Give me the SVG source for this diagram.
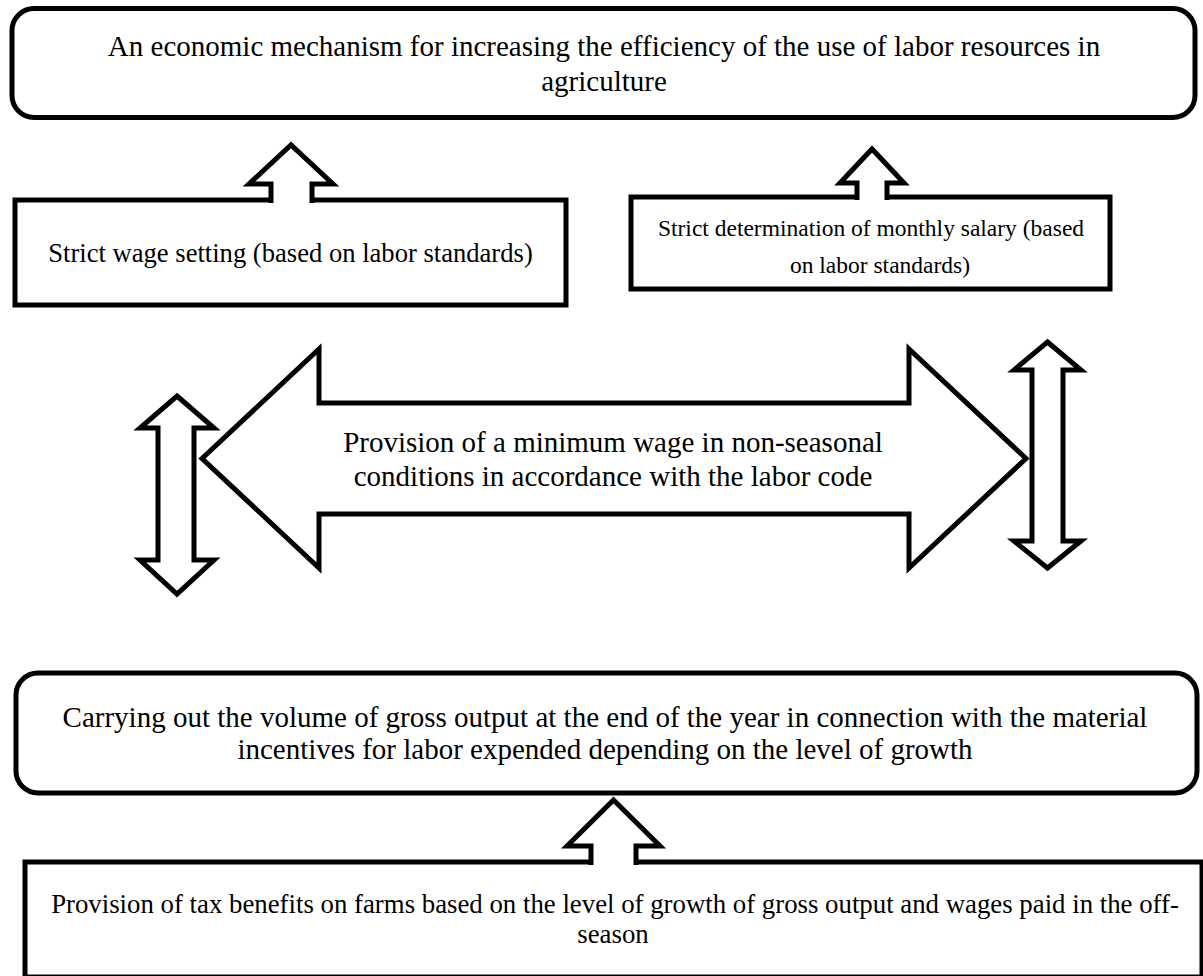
<svg xmlns="http://www.w3.org/2000/svg" width="1203" height="976" viewBox="0 0 1203 976">
  <style>
    .box { fill: #ffffff; stroke: #000000; stroke-width: 5; }
    .arrow { fill: #ffffff; stroke: #000000; stroke-width: 5; stroke-linejoin: miter; stroke-miterlimit: 6; }
    .t { font-family: "Liberation Serif", "Times New Roman", serif; fill: #000000; text-anchor: middle; }
    .big { font-size: 29px; }
    .mid { font-size: 26.6px; }
    .small { font-size: 23.5px; }
    .bot { font-size: 26.8px; }
  </style>
  <rect width="1203" height="976" fill="#ffffff"/>

  <g id="node-top">
    <rect class="box" x="12" y="8.5" width="1183" height="109" rx="22" ry="22"/>
    <text class="t big" x="604" y="56">An economic mechanism for increasing the efficiency of the use of labor resources in</text>
    <text class="t big" x="604" y="91">agriculture</text>
  </g>

  <g id="node-wage">
    <rect class="box" x="15" y="200" width="551" height="105"/>
    <text class="t mid" x="290.5" y="262">Strict wage setting (based on labor standards)</text>
  </g>

  <g id="node-salary">
    <rect class="box" x="631" y="197" width="479" height="92"/>
    <text class="t small" x="871" y="236">Strict determination of monthly salary (based</text>
    <text class="t small" x="880" y="273">on labor standards)</text>
  </g>

  <g id="node-minwage">
    <polygon class="arrow" points="202,458.5 319,349 319,403 909,403 909,349 1026,458.5 909,568 909,514 319,514 319,568"/>
    <text class="t big" x="613" y="452">Provision of a minimum wage in non-seasonal</text>
    <text class="t big" x="613" y="486">conditions in accordance with the labor code</text>
  </g>

  <g id="node-gross">
    <rect class="box" x="16" y="673" width="1181" height="120" rx="22" ry="22"/>
    <text class="t big" x="605" y="727">Carrying out the volume of gross output at the end of the year in connection with the material</text>
    <text class="t big" x="605" y="759">incentives for labor expended depending on the level of growth</text>
  </g>

  <g id="node-tax">
    <rect class="box" x="25" y="862" width="1177" height="115"/>
    <text class="t bot" x="615" y="913">Provision of tax benefits on farms based on the level of growth of gross output and wages paid in the off-</text>
    <text class="t bot" x="613" y="943">season</text>
  </g>

  <g id="connectors">
    <path class="arrow" d="M271,203 V184 H249 L291,145 L333,184 H312 V203"/>
    <path class="arrow" d="M857,200 V183 H840 L872,149 L904,183 H887 V200"/>
    <path class="arrow" d="M591,865 V846 H567 L613.5,800 L660,846 H636 V865"/>
    <polygon class="arrow" points="177,396 214,428 194,428 194,560 214,560 177,594 140,560 158,560 158,428 140,428"/>
    <polygon class="arrow" points="1047.5,342 1081,370 1063,370 1063,541 1081,541 1047.5,568 1014,541 1032,541 1032,370 1014,370"/>
  </g>
</svg>
